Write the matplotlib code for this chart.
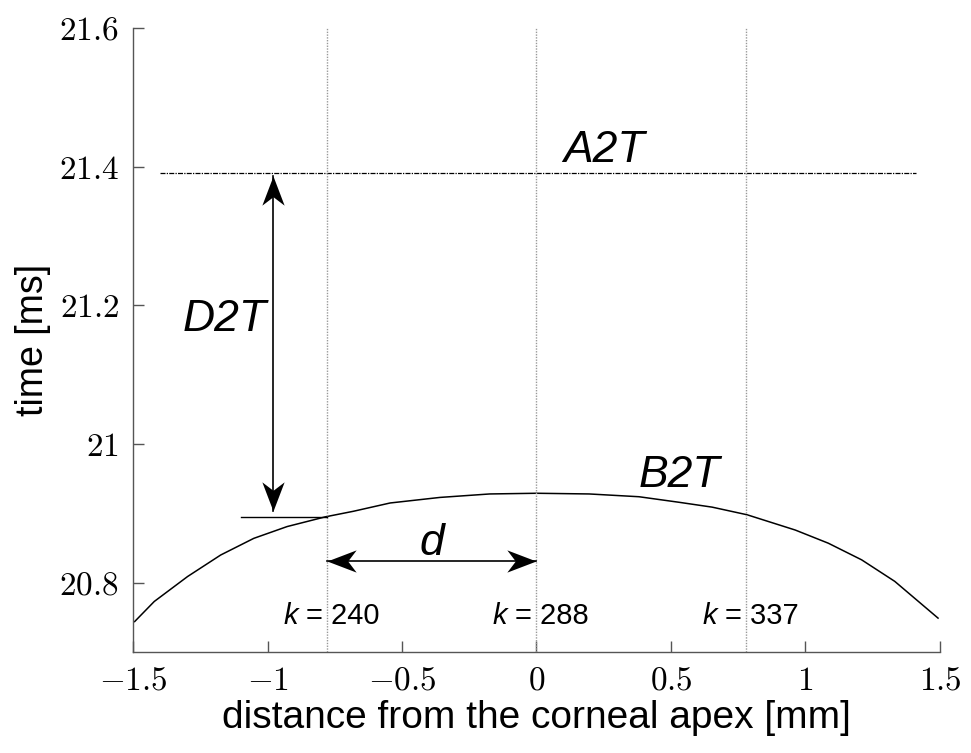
import numpy as np
import matplotlib.pyplot as plt
from matplotlib.path import Path

plt.rcParams['mathtext.fontset'] = 'cm'
plt.rcParams['font.family'] = ['Liberation Sans', 'DejaVu Sans']

# B2T profile
dist_mm = [-1.494, -1.421, -1.297, -1.174, -1.051, -0.927, -0.785, -0.681, -0.544, -0.359,
           -0.174, 0.0, 0.196, 0.381, 0.530, 0.653, 0.783, 0.962, 1.085, 1.209, 1.332, 1.493]
b2t_ms = [20.744, 20.773, 20.809, 20.840, 20.864, 20.881, 20.895, 20.903, 20.915, 20.923,
          20.928, 20.929, 20.928, 20.924, 20.916, 20.909, 20.898, 20.876, 20.857, 20.833,
          20.802, 20.749]

a2t_ms = 21.391
a2t_span = [-1.40, 1.41]
k_pos = [-0.78, 0.0, 0.78]
k_labels = ['240', '288', '337']
xticks = [-1.5, -1, -0.5, 0, 0.5, 1, 1.5]
yticks = [20.8, 21.0, 21.2, 21.4, 21.6]


def head_marker(angle_deg):
    # notched arrow head, tip at the origin, pointing along angle_deg
    pts = np.array([[0, 0], [-1.1, 0.42], [-0.78, 0], [-1.1, -0.42], [0, 0]])
    a = np.deg2rad(angle_deg)
    rot = np.array([[np.cos(a), -np.sin(a)], [np.sin(a), np.cos(a)]])
    return Path(pts @ rot.T, [Path.MOVETO, Path.LINETO, Path.LINETO, Path.LINETO, Path.CLOSEPOLY])


def double_arrow(ax, p0, p1, angle):
    ax.plot([p0[0], p1[0]], [p0[1], p1[1]], color='black', lw=1.2)
    ax.plot(p0[0], p0[1], marker=head_marker(angle + 180), ms=42, color='black', mew=0)
    ax.plot(p1[0], p1[1], marker=head_marker(angle), ms=42, color='black', mew=0)


fig = plt.figure(figsize=(9.71, 7.53), dpi=100)
ax = fig.add_axes([0.137, 0.134, 0.831, 0.829])

ax.plot(dist_mm, b2t_ms, color='black', lw=1.1)
ax.plot(a2t_span, [a2t_ms, a2t_ms], color='black', lw=0.9, ls=(0, (4, 1, 1, 1)))
for xk, lab in zip(k_pos, k_labels):
    ax.axvline(xk, color='#999999', lw=1.0, ls=(0, (1, 1)))
    ax.annotate('k', (xk, 20.740), xytext=(-29, 0), textcoords='offset pixels',
                ha='right', va='baseline', fontsize=21, style='italic')
    ax.annotate('= ' + lab, (xk, 20.740), xytext=(-21, 0), textcoords='offset pixels',
                ha='left', va='baseline', fontsize=21)

# horizontal marker at B2T(k=240)
ax.plot([-1.099, k_pos[0]], [20.895, 20.895], color='black', lw=1.0)

double_arrow(ax, (-0.981, 20.903), (-0.981, 21.386), 90)
double_arrow(ax, (k_pos[0], 20.831), (k_pos[1], 20.831), 0)

ax.text(-1.16, 21.18, 'D2T', fontsize=32, style='italic', ha='center', va='center')
ax.text(0.25, 21.423, 'A2T', fontsize=32, style='italic', ha='center', va='center')
ax.text(0.53, 20.955, 'B2T', fontsize=32, style='italic', ha='center', va='center')
ax.text(-0.39, 20.857, 'd', fontsize=32, style='italic', ha='center', va='center')

ax.set_xlim(-1.5, 1.5)
ax.set_ylim(20.7, 21.6)
ax.set_xticks(xticks)
ax.set_xticklabels(['$-1.5$', '$-1$', '$-0.5$', '$0$', '$0.5$', '$1$', '$1.5$'])
ax.set_yticks(yticks)
ax.set_yticklabels(['$20.8$', '$21$', '$21.2$', '$21.4$', '$21.6$'])
ax.tick_params(direction='in', length=8, width=1.0, color='#555555', labelsize=24, pad=10)
for s in ['top', 'right']:
    ax.spines[s].set_visible(False)
for s in ['left', 'bottom']:
    ax.spines[s].set_color('#555555')
    ax.spines[s].set_linewidth(1.0)

ax.set_xlabel('distance from the corneal apex [mm]', fontsize=28, labelpad=2)
ax.set_ylabel('time [ms]', fontsize=27, labelpad=6)

fig.savefig('out.png', dpi=100)
